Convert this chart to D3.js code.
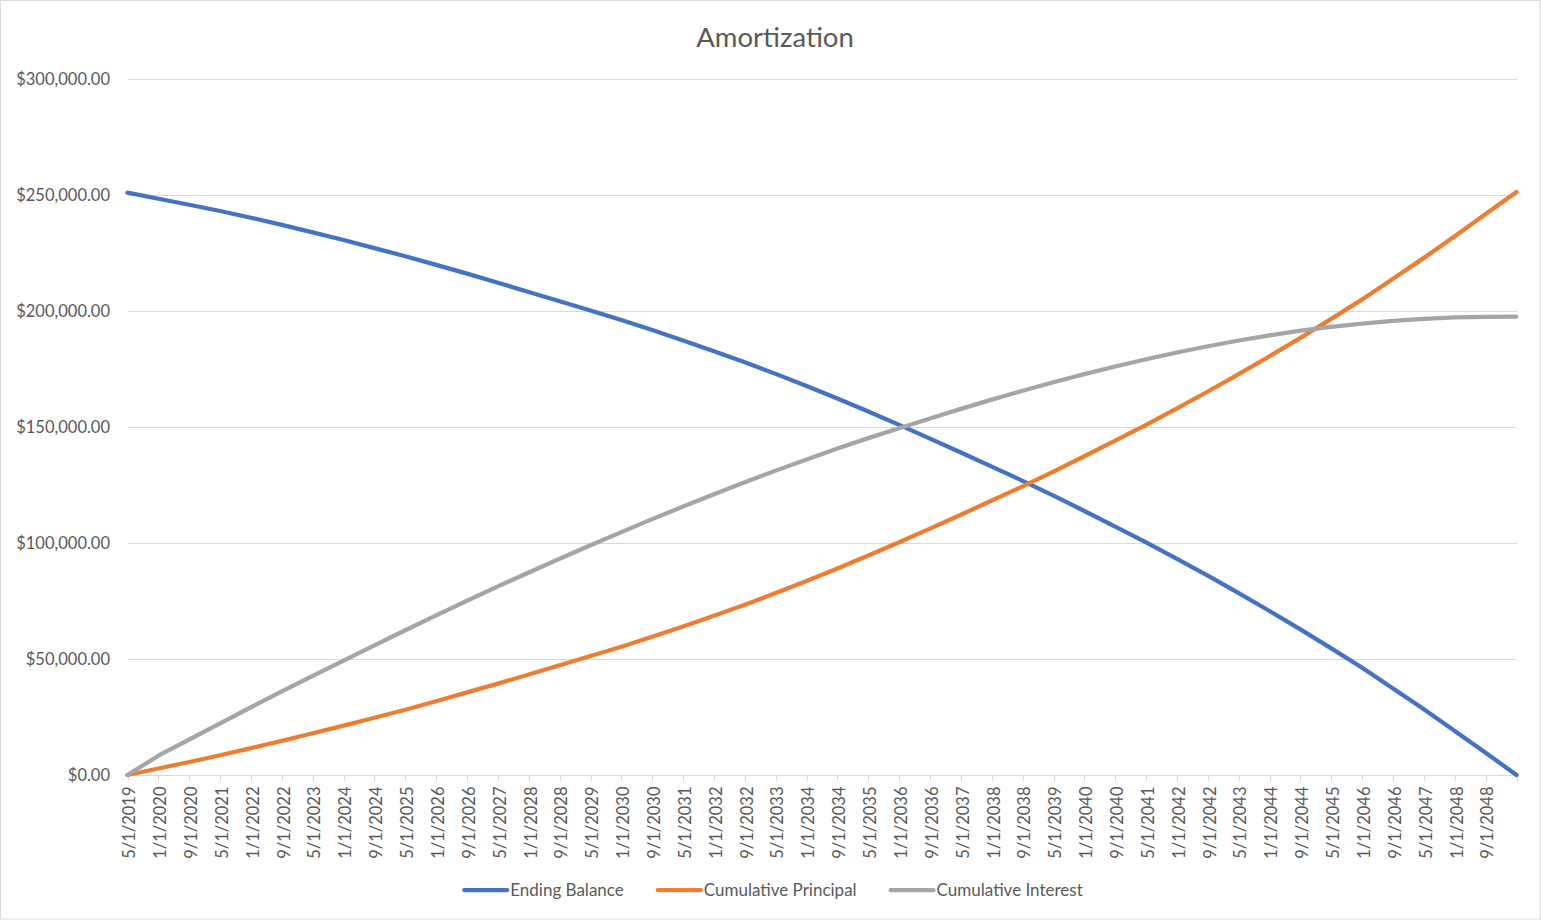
<!DOCTYPE html>
<html>
<head>
<meta charset="utf-8">
<script src="https://cdn.jsdelivr.net/npm/d3@7"></script>
<style>
  html, body { margin: 0; padding: 0; background: #ffffff; }
  svg { display: block; font-family: Lato, "Open Sans", sans-serif; }
</style>
</head>
<body>
<svg id="chart" width="1541" height="921"></svg>
<script>
// ---- Data (in dollars) ----
const periods = ["5/1/2019","1/1/2020","9/1/2020","5/1/2021","1/1/2022","9/1/2022","5/1/2023","1/1/2024","9/1/2024","5/1/2025",
  "1/1/2026","9/1/2026","5/1/2027","1/1/2028","9/1/2028","5/1/2029","1/1/2030","9/1/2030","5/1/2031","1/1/2032",
  "9/1/2032","5/1/2033","1/1/2034","9/1/2034","5/1/2035","1/1/2036","9/1/2036","5/1/2037","1/1/2038","9/1/2038",
  "5/1/2039","1/1/2040","9/1/2040","5/1/2041","1/1/2042","9/1/2042","5/1/2043","1/1/2044","9/1/2044","5/1/2045",
  "1/1/2046","9/1/2046","5/1/2047","1/1/2048","9/1/2048","5/1/2049"];

const tickLabels = ["5/1/2019","1/1/2020","9/1/2020","5/1/2021","1/1/2022","9/1/2022","5/1/2023","1/1/2024","9/1/2024","5/1/2025",
  "1/1/2026","9/1/2026","5/1/2027","1/1/2028","9/1/2028","5/1/2029","1/1/2030","9/1/2030","5/1/2031","1/1/2032",
  "9/1/2032","5/1/2033","1/1/2034","9/1/2034","5/1/2035","1/1/2036","9/1/2036","5/1/2037","1/1/2038","9/1/2038",
  "5/1/2039","1/1/2040","9/1/2040","5/1/2041","1/1/2042","9/1/2042","5/1/2043","1/1/2044","9/1/2044","5/1/2045",
  "1/1/2046","9/1/2046","5/1/2047","1/1/2048","9/1/2048"];
const axisEnd = "5/1/2049";

const endingBalance = [251000,248400,245800,243100,240200,237100,233900,230600,227100,223600,
  219900,216100,212200,208200,204200,200200,196100,191800,187300,182700,
  177900,172900,167700,162300,156700,150900,145000,139000,132900,126800,
  120400,113800,107100,100300,93200,85900,78400,70700,62800,54600,
  46200,37300,28300,19000,9600,0];

const cumulativePrincipal = [0,2800,5600,8500,11600,14700,18000,21300,24700,28100,
  31800,35600,39400,43300,47300,51300,55300,59600,64000,68600,
  73400,78400,83600,89000,94600,100300,106200,112200,118300,124400,
  130800,137400,144100,150900,158000,165300,172800,180500,188400,196600,
  205000,213900,222900,232200,241800,251300];

const cumulativeInterest = [0,8300,15300,22300,29200,36000,42700,49300,55900,62400,
  68800,75100,81300,87300,93200,99000,104700,110300,115700,121000,
  126200,131200,136000,140700,145200,149500,153700,157800,161800,165600,
  169300,172800,176100,179200,182100,184800,187300,189500,191500,193200,
  194600,195700,196600,197200,197500,197600];

const yTicks = [0, 50000, 100000, 150000, 200000, 250000, 300000];
const seriesNames = ["Ending Balance", "Cumulative Principal", "Cumulative Interest"];
const seriesColors = ["#4472C4", "#ED7D31", "#A5A5A5"];
const titleText = "Amortization";

// ---- Helpers ----
function monthIndex(s) {
  const [m, d, y] = s.split("/").map(Number);
  return (y - 2019) * 12 + (m - 5);
}

const svg = d3.select("#chart");
const plot = { left: 127.5, right: 1516.5, top: 79, bottom: 775 };
const textColor = "#595959";
const gridColor = "#d9d9d9";
const fontFam = "Lato, 'Open Sans', sans-serif";

// chart border
svg.append("rect").attr("x", 0.5).attr("y", 0.5).attr("width", 1539.5).attr("height", 918.5)
  .attr("fill", "#fff").attr("stroke", gridColor).attr("stroke-width", 1);

const x = d3.scaleLinear().domain([0, monthIndex(axisEnd)]).range([plot.left, plot.right]);
const y = d3.scaleLinear().domain([0, 300000]).range([plot.bottom, plot.top]);

// title
svg.append("text").attr("x", 775).attr("y", 46.5).attr("text-anchor", "middle")
  .attr("fill", textColor).style("font-size", "27.5px").text(titleText);

// y axis with gridlines
const yAxis = svg.append("g").attr("transform", `translate(${plot.left},0)`)
  .call(d3.axisLeft(y).tickValues(yTicks).tickFormat(d3.format("$,.2f"))
    .tickSize(-(plot.right - plot.left)).tickPadding(17.5));
yAxis.select(".domain").remove();
yAxis.selectAll(".tick line").attr("stroke", gridColor).attr("stroke-width", 1)
  .attr("shape-rendering", "crispEdges");
yAxis.selectAll(".tick text").attr("fill", textColor).style("font-size", "16.5px")
  .style("font-family", fontFam);

// x axis
const tickVals = tickLabels.map(monthIndex).concat([monthIndex(axisEnd)]);
const labelByMonth = new Map(tickLabels.map(l => [monthIndex(l), l]));
const xAxis = svg.append("g").attr("transform", `translate(0,${plot.bottom})`)
  .call(d3.axisBottom(x).tickValues(tickVals).tickFormat(v => labelByMonth.get(v) || "")
    .tickSizeInner(6).tickSizeOuter(0));
xAxis.select(".domain").attr("stroke", gridColor).attr("shape-rendering", "crispEdges");
xAxis.selectAll(".tick line").attr("stroke", gridColor).attr("shape-rendering", "crispEdges");
xAxis.selectAll(".tick text")
  .attr("fill", textColor).style("font-size", "16.5px")
  .style("font-family", fontFam)
  .attr("text-anchor", "end")
  .attr("transform", "translate(1.5,11.5) rotate(-90)")
  .attr("x", 0).attr("y", 0).attr("dy", "0.35em");

// lines
const allSeries = [endingBalance, cumulativePrincipal, cumulativeInterest];
const line = d3.line()
  .x((d, i) => x(monthIndex(periods[i])))
  .y(d => y(d));
allSeries.forEach((vals, si) => {
  svg.append("path").datum(vals)
    .attr("d", line)
    .attr("fill", "none")
    .attr("stroke", seriesColors[si])
    .attr("stroke-width", 4.25)
    .attr("stroke-linejoin", "round")
    .attr("stroke-linecap", "round");
});

// legend
const legend = svg.append("g");
const legendY = 890;
const sampleW = 43, sampleGap = 3, itemGap = 34;
const items = seriesNames.map((name, i) => {
  const g = legend.append("g");
  g.append("line").attr("x1", 0).attr("x2", sampleW).attr("y1", 0).attr("y2", 0)
    .attr("stroke", seriesColors[i]).attr("stroke-width", 4.25).attr("stroke-linecap", "round");
  const t = g.append("text").attr("x", sampleW + sampleGap).attr("y", 0).attr("dy", "0.35em")
    .attr("fill", textColor).style("font-size", "17px").text(name);
  return { g, w: sampleW + sampleGap + t.node().getComputedTextLength() };
});
const totalW = d3.sum(items, d => d.w) + itemGap * (items.length - 1);
let cx = 773.5 - totalW / 2;
items.forEach(it => {
  it.g.attr("transform", `translate(${cx},${legendY})`);
  cx += it.w + itemGap;
});
</script>
</body>
</html>
